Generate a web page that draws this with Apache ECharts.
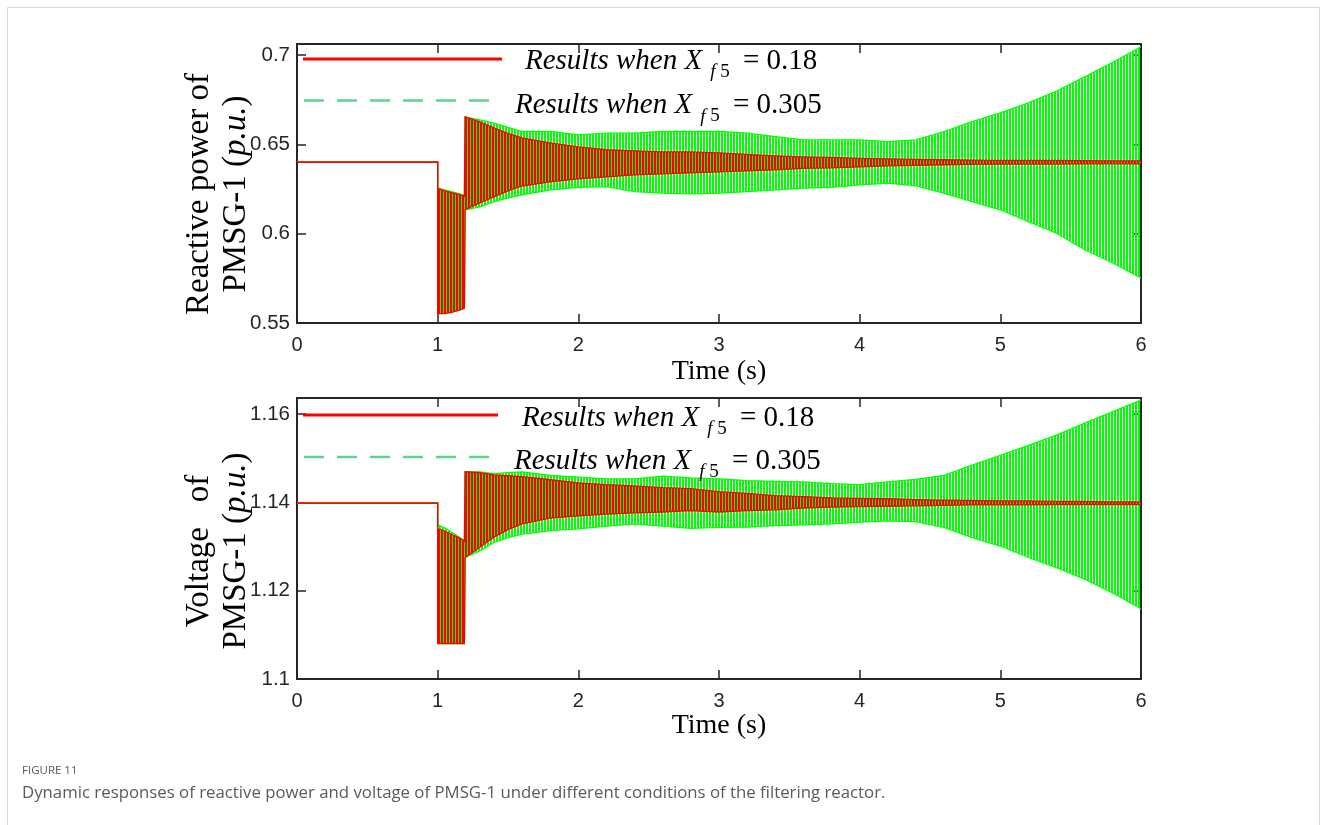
<!DOCTYPE html>
<html>
<head>
<meta charset="utf-8">
<script src="https://cdn.jsdelivr.net/npm/echarts@6/dist/echarts.min.js"></script>
<style>
html, body { margin: 0; padding: 0; background: #ffffff; }
#chart { width: 1327px; height: 825px; }
</style>
</head>
<body>
<div id="chart"></div>
<script>
// ---------------- DATA (envelopes of the oscillating responses) ----------------
const timeSamples = [0, 1, 1, 1.05, 1.1, 1.15, 1.19, 1.195, 1.3, 1.4, 1.5, 1.6, 1.8, 2.0, 2.2, 2.4, 2.6, 2.8,
  3.0, 3.2, 3.4, 3.6, 3.8, 4.0, 4.2, 4.4, 4.6, 4.8, 5.0, 5.2, 5.4, 5.6, 5.8, 6.0];

// Reactive power of PMSG-1 (p.u.)
const qGreenUpper = [0.64, 0.64, 0.6257, 0.6245, 0.6235, 0.6225, 0.6215, 0.6654, 0.6637, 0.6619, 0.6595, 0.6572, 0.6572,
  0.6553, 0.6563, 0.6563, 0.6572, 0.6572, 0.6572, 0.6563, 0.6544, 0.6525, 0.6525, 0.6525, 0.6516, 0.6525, 0.6572,
  0.6628, 0.6676, 0.6732, 0.6799, 0.6878, 0.6960, 0.7046];
const qGreenLower = [0.64, 0.64, 0.5562, 0.5558, 0.5565, 0.5575, 0.5588, 0.6134, 0.6150, 0.6180, 0.6200, 0.6218, 0.6245,
  0.6260, 0.6264, 0.6236, 0.6227, 0.6223, 0.6227, 0.6236, 0.6245, 0.6255, 0.6260, 0.6273, 0.6283, 0.6268, 0.6227,
  0.6180, 0.6134, 0.6068, 0.6003, 0.5910, 0.5836, 0.5753];
const qRedUpper = [0.64, 0.64, 0.6252, 0.6240, 0.6230, 0.6220, 0.6210, 0.6654, 0.6626, 0.6592, 0.6562, 0.6537, 0.6508,
  0.6486, 0.6470, 0.6464, 0.6458, 0.6458, 0.6453, 0.6444, 0.6436, 0.6430, 0.6427, 0.6422, 0.6419, 0.6416, 0.6414,
  0.6412, 0.6411, 0.6410, 0.6410, 0.6409, 0.6408, 0.6408];
const qRedLower = [0.64, 0.64, 0.5552, 0.5552, 0.5560, 0.5570, 0.5582, 0.6134, 0.6173, 0.6206, 0.6240, 0.6267, 0.6290,
  0.6307, 0.6318, 0.6329, 0.6335, 0.6340, 0.6346, 0.6352, 0.6357, 0.6366, 0.6368, 0.6374, 0.6380, 0.6382, 0.6386,
  0.6388, 0.6389, 0.6390, 0.6390, 0.6391, 0.6391, 0.6391];

// Voltage of PMSG-1 (p.u.)
const vGreenUpper = [1.1398, 1.1398, 1.1349, 1.1342, 1.1332, 1.1322, 1.1313, 1.1469, 1.1469, 1.1465, 1.1467, 1.1469, 1.1461,
  1.1457, 1.1453, 1.1453, 1.1459, 1.1455, 1.1453, 1.1449, 1.1447, 1.1446, 1.1442, 1.1440, 1.1446, 1.1452, 1.1461,
  1.1484, 1.1506, 1.1529, 1.1552, 1.1579, 1.1605, 1.1631];
const vGreenLower = [1.1398, 1.1398, 1.1080, 1.1080, 1.1080, 1.1080, 1.1080, 1.1275, 1.1290, 1.1309, 1.1320, 1.1328, 1.1336,
  1.1340, 1.1346, 1.1351, 1.1346, 1.1341, 1.1343, 1.1344, 1.1347, 1.1349, 1.1351, 1.1355, 1.1358, 1.1356, 1.1343,
  1.1320, 1.1301, 1.1275, 1.1252, 1.1226, 1.1195, 1.1159];
const vRedUpper = [1.1398, 1.1398, 1.1340, 1.1335, 1.1327, 1.1320, 1.1312, 1.1469, 1.1467, 1.1462, 1.1460, 1.1458, 1.1451,
  1.1444, 1.1440, 1.1437, 1.1433, 1.1431, 1.1424, 1.1420, 1.1415, 1.1413, 1.1410, 1.1409, 1.1408, 1.1406, 1.1405,
  1.1404, 1.1403, 1.1403, 1.1402, 1.1402, 1.1401, 1.1401];
const vRedLower = [1.1398, 1.1398, 1.1080, 1.1080, 1.1080, 1.1080, 1.1080, 1.1275, 1.1298, 1.1321, 1.1338, 1.1351, 1.1364,
  1.1369, 1.1373, 1.1376, 1.1378, 1.1381, 1.1378, 1.1381, 1.1383, 1.1387, 1.1389, 1.1390, 1.1391, 1.1392, 1.1393,
  1.1394, 1.1394, 1.1394, 1.1395, 1.1395, 1.1395, 1.1395];

const qTickValues = [0.55, 0.6, 0.65, 0.7];
const vTickValues = [1.1, 1.12, 1.14, 1.16];
const timeTickLabels = ['0', '1', '2', '3', '4', '5', '6'];

const legendTexts = ['0.18', '0.305'];

// ---------------- RENDERING ----------------
function stripes(cols) {
  const c = document.createElement('canvas');
  c.width = cols.length; c.height = 1;
  const ctx = c.getContext('2d');
  cols.forEach((col, i) => { if (col) { ctx.fillStyle = col; ctx.fillRect(i, 0, 1, 1); } });
  return c;
}
const GREEN = '#00ff00';
const RED = '#ff0000';
const greenPattern = { image: stripes([null, GREEN, GREEN]), repeat: 'repeat' };
const redPattern = { image: stripes([RED, RED, null]), repeat: 'repeat' };

// band between lower and upper envelope of one oscillating response, drawn through the axes' scales
function bandSeries(name, lower, upper, color, pattern, xi, yi) {
  return {
    type: 'custom', name: name, xAxisIndex: xi, yAxisIndex: yi, clip: true, silent: true, animation: false,
    data: timeSamples.map((t, i) => [t, lower[i], upper[i]]),
    encode: { x: 0, y: [1, 2] },
    renderItem: function (params, api) {
      if (params.dataIndex !== 0) return null;
      const top = [], bot = [];
      for (let i = 0; i < timeSamples.length; i++) {
        top.push(api.coord([timeSamples[i], upper[i]]));
        bot.push(api.coord([timeSamples[i], lower[i]]));
      }
      const poly = top.concat(bot.slice().reverse());
      return {
        type: 'group',
        children: [
          { type: 'polygon', shape: { points: poly }, style: { fill: pattern, stroke: null } },
          { type: 'polyline', shape: { points: top }, style: { stroke: color, lineWidth: 1.3, fill: null } },
          { type: 'polyline', shape: { points: bot }, style: { stroke: color, lineWidth: 1.3, fill: null } }
        ]
      };
    }
  };
}

const INK = '#262626';
const axisLineStyle = { show: true, onZero: false, lineStyle: { color: INK, width: 2 } };
const tickStyle = { inside: true, length: 9, lineStyle: { color: INK, width: 1.5 } };

function xAxes(gridIndex, nameGap) {
  return [
    {
      gridIndex, type: 'value', min: 0, max: 6, interval: 1, position: 'bottom',
      axisLine: axisLineStyle, axisTick: tickStyle, splitLine: { show: false },
      axisLabel: { margin: 12, fontSize: 20, color: INK, fontFamily: 'Liberation Sans, Arial, sans-serif',
        formatter: v => timeTickLabels[Math.round(v)] },
      name: 'Time (s)', nameLocation: 'middle', nameGap: nameGap,
      nameTextStyle: { fontFamily: 'Liberation Serif, Times New Roman, serif', fontSize: 28, color: '#000' }
    },
    {
      gridIndex, type: 'value', min: 0, max: 6, interval: 1, position: 'top',
      axisLine: axisLineStyle, axisTick: tickStyle, splitLine: { show: false }, axisLabel: { show: false }
    }
  ];
}
function yAxes(gridIndex, min, max, ticks) {
  return [
    {
      gridIndex, type: 'value', min, max, position: 'left',
      axisLine: axisLineStyle, axisTick: Object.assign({ customValues: ticks }, tickStyle), splitLine: { show: false },
      axisLabel: { customValues: ticks, margin: 7, fontSize: 20.5, color: INK, fontFamily: 'Liberation Sans, Arial, sans-serif' }
    },
    {
      gridIndex, type: 'value', min, max, position: 'right',
      axisLine: axisLineStyle, axisTick: Object.assign({ customValues: ticks }, tickStyle), splitLine: { show: false },
      axisLabel: { show: false }
    }
  ];
}

const serif = 'Liberation Serif, Times New Roman, serif';
function legendText(x, y, value) {
  return {
    type: 'text', x, y, silent: true, z: 100,
    style: {
      text: '{it|Results when X}{si|f}{sn| 5}{rm| = ' + value + '}',
      align: 'left', verticalAlign: 'middle',
      rich: {
        it: { fontFamily: serif, fontStyle: 'italic', fontSize: 29, lineHeight: 32, fill: '#000' },
        si: { fontFamily: serif, fontStyle: 'italic', fontSize: 19, lineHeight: 19, padding: [22, 0, 0, 8], fill: '#000' },
        sn: { fontFamily: serif, fontSize: 19, lineHeight: 19, padding: [22, 0, 0, 0], fill: '#000' },
        rm: { fontFamily: serif, fontSize: 29, lineHeight: 32, padding: [0, 0, 0, 6], fill: '#000' }
      }
    }
  };
}
function yTitle(x, y, line1) {
  return {
    type: 'text', x, y, rotation: Math.PI / 2, silent: true,
    style: {
      text: line1 + '\nPMSG-1 ({it|p.u.})',
      align: 'center', verticalAlign: 'middle',
      fontFamily: serif, fontSize: 33, lineHeight: 37, fill: '#000',
      rich: { it: { fontFamily: serif, fontStyle: 'italic', fontSize: 33, lineHeight: 37, fill: '#000' } }
    }
  };
}

const chart = echarts.init(document.getElementById('chart'), null, { renderer: 'canvas' });
chart.setOption({
  animation: false,
  backgroundColor: '#ffffff',
  grid: [
    { left: 297, top: 44, width: 844, height: 279 },
    { left: 297, top: 398, width: 844, height: 281 }
  ],
  xAxis: [].concat(xAxes(0, 35), xAxes(1, 29)),
  yAxis: [].concat(yAxes(0, 0.55, 0.7062, qTickValues), yAxes(1, 1.1, 1.1636, vTickValues)),
  series: [
    bandSeries('q-green', qGreenLower, qGreenUpper, GREEN, greenPattern, 0, 0),
    bandSeries('q-red', qRedLower, qRedUpper, RED, redPattern, 0, 0),
    bandSeries('v-green', vGreenLower, vGreenUpper, GREEN, greenPattern, 2, 2),
    bandSeries('v-red', vRedLower, vRedUpper, RED, redPattern, 2, 2)
  ],
  graphic: [
    { type: 'rect', silent: true, shape: { x: 7.5, y: 7.5, width: 1312, height: 840 }, style: { fill: null, stroke: '#d9d9d9', lineWidth: 1 } },
    // legend, top panel
    { type: 'line', silent: true, z: 100, shape: { x1: 303, y1: 59, x2: 502, y2: 59 }, style: { stroke: RED, lineWidth: 3 } },
    { type: 'line', silent: true, z: 100, shape: { x1: 304, y1: 100.5, x2: 497, y2: 100.5 }, style: { stroke: '#5cd68a', lineWidth: 2.5, lineDash: [20, 13] } },
    legendText(525, 61, legendTexts[0]),
    legendText(515, 105.5, legendTexts[1]),
    // legend, bottom panel
    { type: 'line', silent: true, z: 100, shape: { x1: 303, y1: 415, x2: 498, y2: 415 }, style: { stroke: RED, lineWidth: 3 } },
    { type: 'line', silent: true, z: 100, shape: { x1: 304, y1: 457, x2: 497, y2: 457 }, style: { stroke: '#5cd68a', lineWidth: 2.5, lineDash: [20, 13] } },
    legendText(522, 418, legendTexts[0]),
    legendText(514, 461, legendTexts[1]),
    // y-axis titles
    yTitle(218, 194, 'Reactive power of'),
    yTitle(218, 551, 'Voltage   of'),
    // caption
    { type: 'text', x: 22, y: 771, silent: true, style: { text: 'FIGURE 11', fontFamily: 'Open Sans, sans-serif', fontSize: 11.5, fill: '#5a5a5a', verticalAlign: 'middle' } },
    { type: 'text', x: 22, y: 793, silent: true, style: { text: 'Dynamic responses of reactive power and voltage of PMSG-1 under different conditions of the filtering reactor.', fontFamily: 'Open Sans, sans-serif', fontSize: 16.8, fill: '#5a5a5a', verticalAlign: 'middle' } }
  ]
});
</script>
</body>
</html>
